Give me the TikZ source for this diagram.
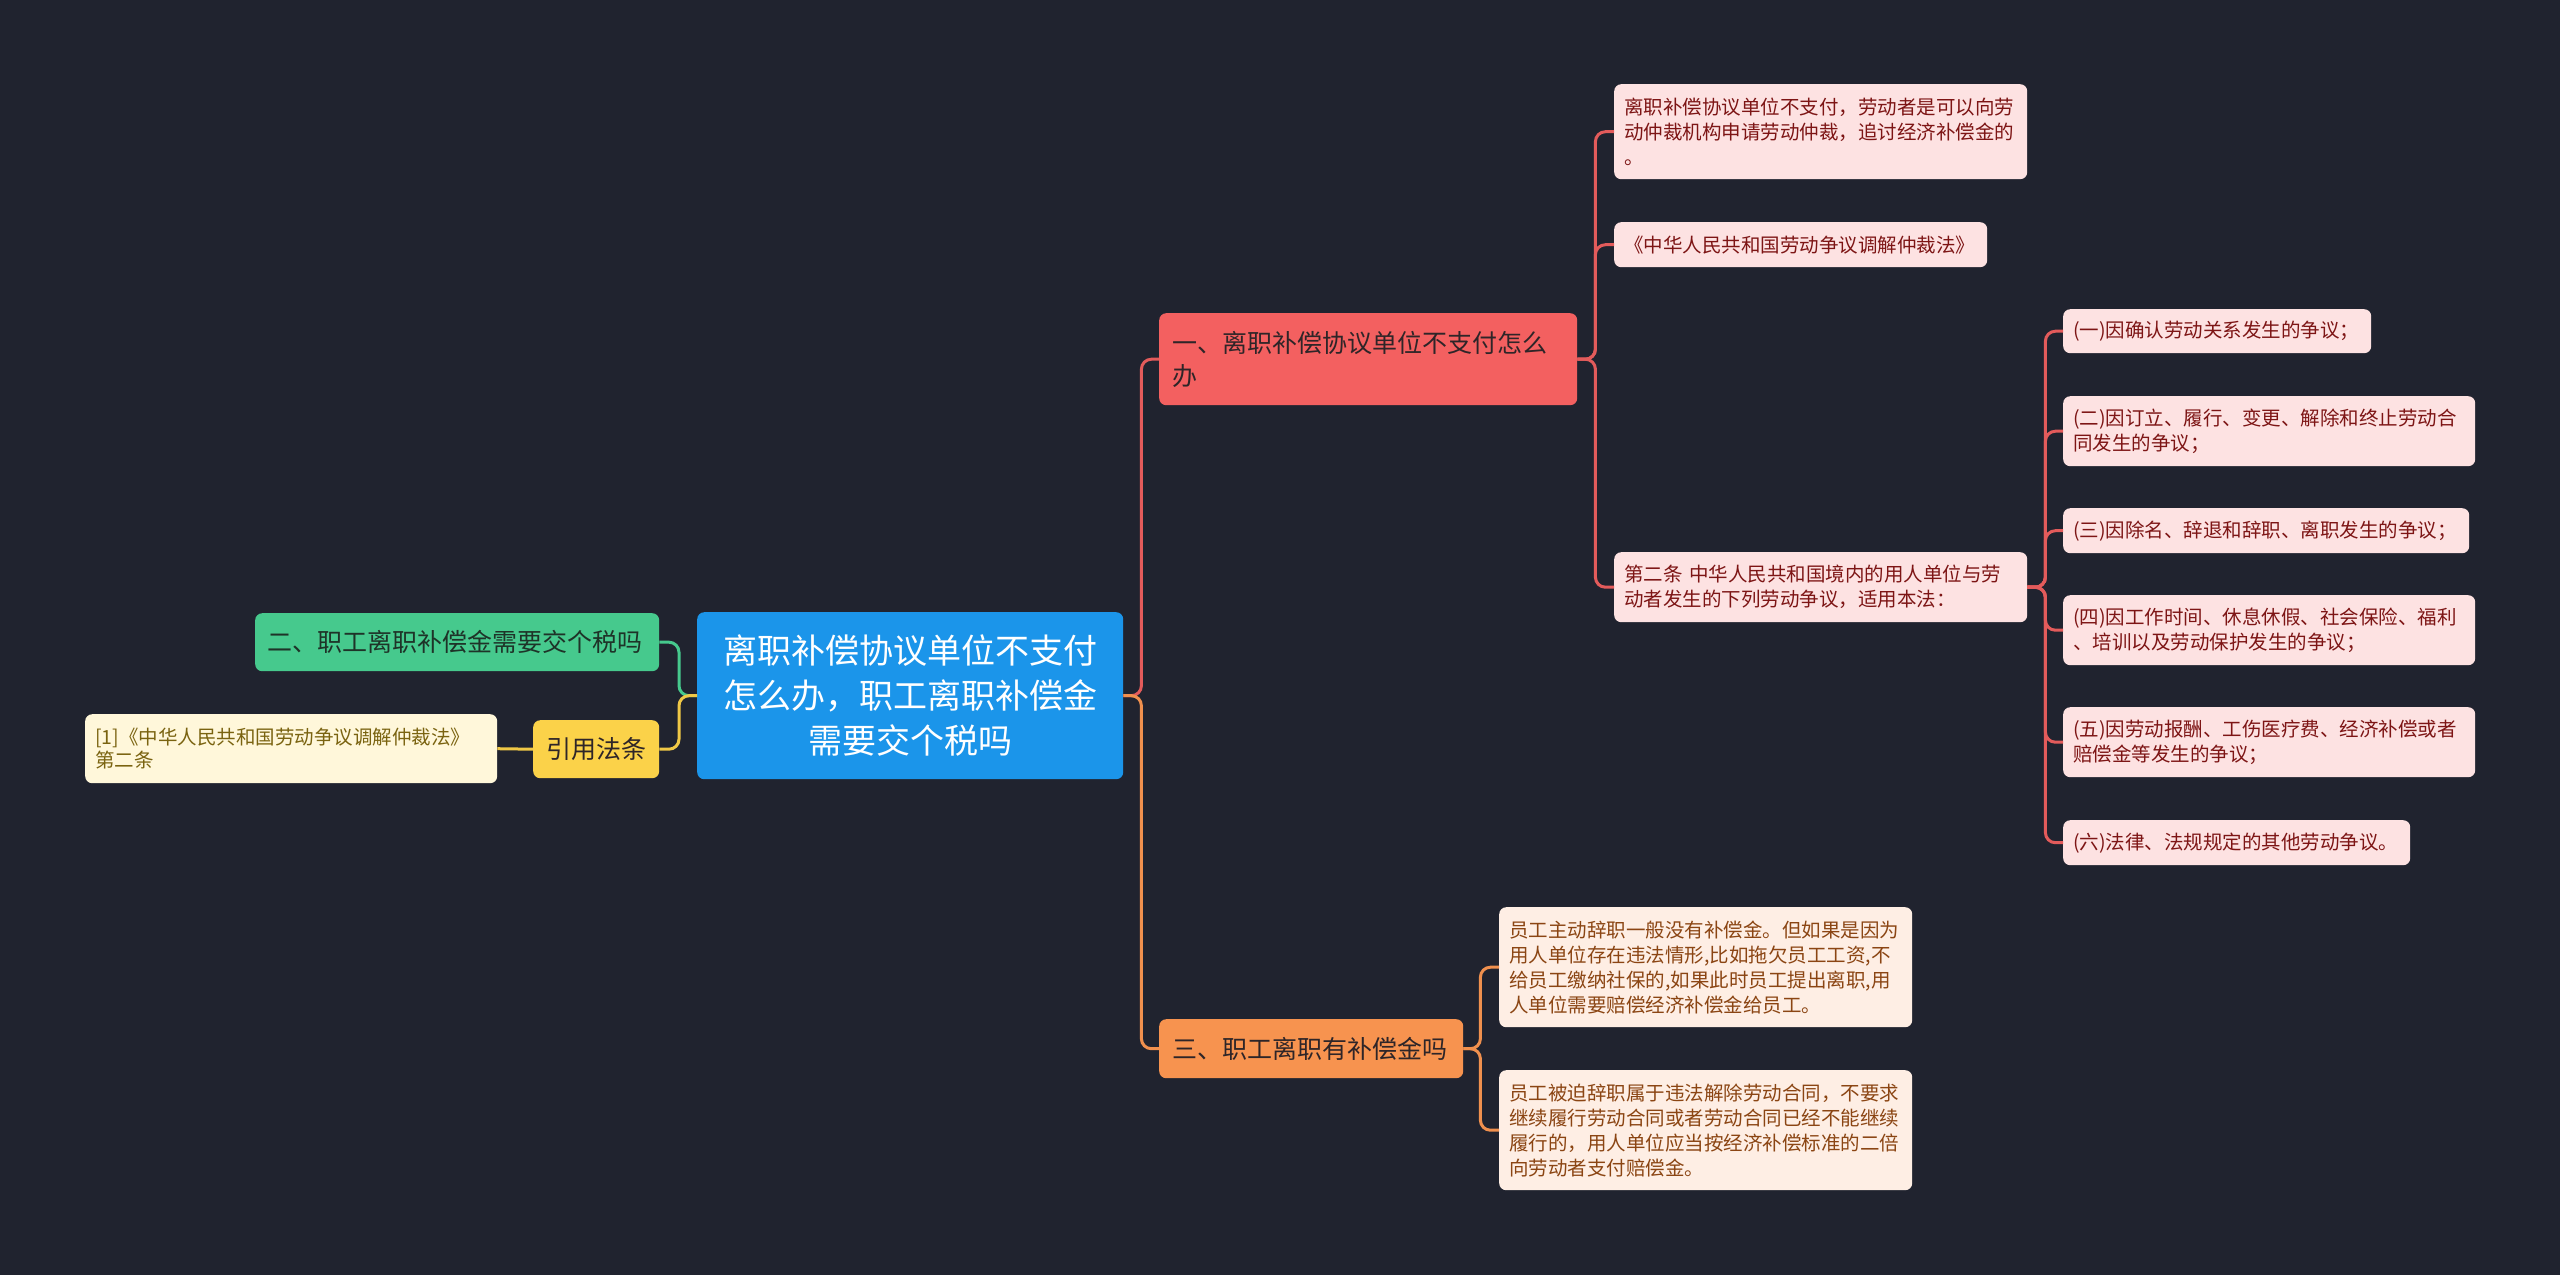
\documentclass[tikz,border=0pt]{standalone}
\usepackage{fontspec}
\setmainfont{Noto Sans CJK SC}
\definecolor{bgc}{HTML}{20232F}
\definecolor{bluef}{HTML}{1B95EA}
\definecolor{redf}{HTML}{F36060}
\definecolor{redc}{HTML}{E35B5B}
\definecolor{pinkf}{HTML}{FDE2E2}
\definecolor{pinkt}{HTML}{7D1515}
\definecolor{orgf}{HTML}{F7934F}
\definecolor{orgc}{HTML}{F0904E}
\definecolor{peachf}{HTML}{FEEEE4}
\definecolor{peacht}{HTML}{8B4513}
\definecolor{grnf}{HTML}{46C98D}
\definecolor{grnt}{HTML}{1E3328}
\definecolor{yelf}{HTML}{FBD249}
\definecolor{yelc}{HTML}{F0C846}
\definecolor{creamf}{HTML}{FFF7DA}
\definecolor{creamt}{HTML}{7A6310}
\definecolor{darkt}{HTML}{2E2528}
\newcommand{\myfsS}{\fontsize{19.5}{25}\selectfont}
\newcommand{\myfsM}{\fontsize{25}{33}\selectfont}
\newcommand{\myfsL}{\fontsize{34}{45}\selectfont}
\begin{document}
\begin{tikzpicture}[x=1pt,y=-1pt,
  box/.style={anchor=north west, rounded corners=7pt, inner ysep=0pt, align=left},
  sub/.style={box, inner xsep=10pt, font=\myfsS},
  conn/.style={line width=3pt, rounded corners=10pt}]
\useasboundingbox (0,0) rectangle (2560,1275);
\fill[bgc] (0,0) rectangle (2560,1275);

% central
\node[box, fill=bluef, text=white, align=center, inner xsep=0pt, minimum width=426, minimum height=167, text width=426, font=\myfsL] (ctr) at (697,612)
  {离职补偿协议单位不支付\\怎么办，职工离职补偿金\\需要交个税吗};

% left
\node[box, fill=grnf, text=grnt, inner xsep=12pt, minimum height=58, text width=380, font=\myfsM] (g) at (255,613)
  {二、职工离职补偿金需要交个税吗};
\node[box, fill=yelf, text=darkt, align=center, inner xsep=0pt, minimum height=58, text width=126, font=\myfsM] (y) at (533,720)
  {引用法条};
\node[box, fill=creamf, text=creamt, inner xsep=10pt, minimum height=69, text width=392, font=\fontsize{19.5}{23}\selectfont] (cr) at (85,714)
  {[1]《中华人民共和国劳动争议调解仲裁法》\\第二条};

% main branches
\node[box, fill=redf, text=darkt, inner xsep=13pt, minimum height=92, text width=392, font=\myfsM] (one) at (1159,313)
  {一、离职补偿协议单位不支付怎么\\办};
\node[box, fill=orgf, text=darkt, inner xsep=13pt, minimum height=59, text width=278, font=\myfsM] (three) at (1159,1019)
  {三、职工离职有补偿金吗};

% red children
\node[sub, fill=pinkf, text=pinkt, minimum height=95, text width=393] (a1) at (1614,84)
  {离职补偿协议单位不支付，劳动者是可以向劳\\动仲裁机构申请劳动仲裁，追讨经济补偿金的\\。};
\node[sub, fill=pinkf, text=pinkt, minimum height=45, text width=353] (a2) at (1614,222)
  {《中华人民共和国劳动争议调解仲裁法》};
\node[sub, fill=pinkf, text=pinkt, minimum height=70, text width=393] (a3) at (1614,552)
  {第二条~中华人民共和国境内的用人单位与劳\\动者发生的下列劳动争议，适用本法：};

\node[sub, fill=pinkf, text=pinkt, minimum height=44, text width=288] (b1) at (2063,309)
  {(一)因确认劳动关系发生的争议；};
\node[sub, fill=pinkf, text=pinkt, minimum height=70, text width=392] (b2) at (2063,396)
  {(二)因订立、履行、变更、解除和终止劳动合\\同发生的争议；};
\node[sub, fill=pinkf, text=pinkt, minimum height=45, text width=386] (b3) at (2063,508)
  {(三)因除名、辞退和辞职、离职发生的争议；};
\node[sub, fill=pinkf, text=pinkt, minimum height=70, text width=392] (b4) at (2063,595)
  {(四)因工作时间、休息休假、社会保险、福利\\、培训以及劳动保护发生的争议；};
\node[sub, fill=pinkf, text=pinkt, minimum height=70, text width=392] (b5) at (2063,707)
  {(五)因劳动报酬、工伤医疗费、经济补偿或者\\赔偿金等发生的争议；};
\node[sub, fill=pinkf, text=pinkt, minimum height=45, text width=327] (b6) at (2063,820)
  {(六)法律、法规规定的其他劳动争议。};

% orange children
\node[sub, fill=peachf, text=peacht, minimum height=120, text width=393] (c1) at (1499,907)
  {员工主动辞职一般没有补偿金。但如果是因为\\用人单位存在违法情形,比如拖欠员工工资,不\\给员工缴纳社保的,如果此时员工提出离职,用\\人单位需要赔偿经济补偿金给员工。};
\node[sub, fill=peachf, text=peacht, minimum height=120, text width=393] (c2) at (1499,1070)
  {员工被迫辞职属于违法解除劳动合同，不要求\\继续履行劳动合同或者劳动合同已经不能继续\\履行的，用人单位应当按经济补偿标准的二倍\\向劳动者支付赔偿金。};

% connectors
\draw[conn, redc] (ctr.east) -- ++(18,0) |- (one.west);
\draw[conn, orgc] (ctr.east) -- ++(18,0) |- (three.west);
\draw[conn, redc] (one.east) -- ++(18,0) |- (a1.west);
\draw[conn, redc] (one.east) -- ++(18,0) |- (a2.west);
\draw[conn, redc] (one.east) -- ++(18,0) |- (a3.west);
\foreach \n in {b1,b2,b3,b4,b5,b6}
  \draw[conn, redc] (a3.east) -- ++(18,0) |- (\n.west);
\draw[conn, orgc] (three.east) -- ++(17,0) |- (c1.west);
\draw[conn, orgc] (three.east) -- ++(17,0) |- (c2.west);
\draw[conn, grnf] (ctr.west) -- ++(-18,0) |- (g.east);
\draw[conn, yelc] (ctr.west) -- ++(-18,0) |- (y.east);
\draw[conn, yelc] (y.west) -- (cr.east);
\end{tikzpicture}
\end{document}
